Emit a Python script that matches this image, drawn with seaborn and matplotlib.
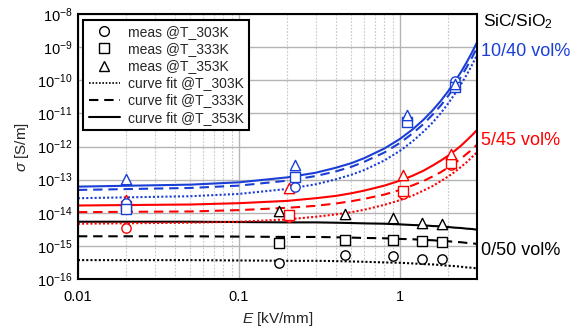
import numpy as np
import pandas as pd
import seaborn as sns
import matplotlib.pyplot as plt
from matplotlib.lines import Line2D
from matplotlib.ticker import FixedLocator, FixedFormatter, LogLocator, NullFormatter

# ---- fitted conductivity curves (log10 sigma [S/m] at the listed fields) ----
E_fit = [0.01, 0.05, 0.1, 0.2, 0.3, 0.4, 0.5, 0.6, 0.8, 1.0,
         1.2, 1.4, 1.6, 1.8, 2.0, 2.2, 2.4, 2.6, 2.8, 3.0]

fit_10_40_303 = [-13.56, -13.50, -13.43, -13.28, -13.14, -12.99, -12.85, -12.71, -12.42, -12.13,
                 -11.84, -11.55, -11.27, -10.98, -10.69, -10.40, -10.11, -9.83, -9.54, -9.25]
fit_10_40_333 = [-13.31, -13.25, -13.18, -13.03, -12.89, -12.75, -12.61, -12.46, -12.18, -11.89,
                 -11.60, -11.32, -11.03, -10.75, -10.46, -10.17, -9.89, -9.60, -9.32, -9.03]
fit_10_40_353 = [-13.21, -13.15, -13.08, -12.93, -12.79, -12.64, -12.50, -12.35, -12.06, -11.77,
                 -11.48, -11.19, -10.90, -10.61, -10.32, -10.03, -9.74, -9.45, -9.16, -8.87]

fit_5_45_303 = [-14.33, -14.30, -14.27, -14.20, -14.12, -14.05, -13.98, -13.91, -13.76, -13.62,
                -13.48, -13.33, -13.19, -13.04, -12.90, -12.76, -12.61, -12.47, -12.32, -12.18]
fit_5_45_333 = [-13.98, -13.96, -13.92, -13.85, -13.79, -13.72, -13.65, -13.58, -13.45, -13.31,
                -13.17, -13.04, -12.90, -12.77, -12.63, -12.49, -12.36, -12.22, -12.09, -11.95]
fit_5_45_353 = [-13.78, -13.75, -13.71, -13.64, -13.56, -13.49, -13.41, -13.33, -13.18, -13.03,
                -12.88, -12.73, -12.57, -12.42, -12.27, -12.12, -11.97, -11.81, -11.66, -11.51]

fit_0_50_303 = [-15.43, -15.43, -15.44, -15.45, -15.45, -15.46, -15.47, -15.48, -15.50, -15.51,
                -15.53, -15.55, -15.56, -15.58, -15.60, -15.61, -15.63, -15.65, -15.66, -15.68]
fit_0_50_333 = [-14.71, -14.71, -14.72, -14.73, -14.73, -14.74, -14.75, -14.76, -14.77, -14.79,
                -14.80, -14.82, -14.83, -14.85, -14.86, -14.88, -14.89, -14.91, -14.92, -14.94]
fit_0_50_353 = [-14.27, -14.27, -14.28, -14.29, -14.29, -14.30, -14.31, -14.32, -14.33, -14.35,
                -14.37, -14.38, -14.40, -14.41, -14.43, -14.45, -14.46, -14.48, -14.49, -14.51]

# ---- measured conductivity (log10 sigma [S/m]) ----
E_meas_0_50 = [0.177, 0.455, 0.90, 1.375, 1.82]
meas_0_50_303 = [-15.53, -15.28, -15.31, -15.39, -15.41]
meas_0_50_333 = [-14.91, -14.83, -14.83, -14.85, -14.89]
meas_0_50_353 = [-13.95, -14.04, -14.17, -14.30, -14.34]

E_meas_5_45 = [0.02, 0.206, 1.04, 2.07]
meas_5_45_303 = [-14.45, -14.12, -13.42, -12.55]
meas_5_45_333 = [-13.80, -14.07, -13.34, -12.49]
meas_5_45_353 = [-13.62, -13.24, -12.86, -12.21]

E_meas_10_40 = [0.02, 0.224, 1.11, 2.20]
meas_10_40_303 = [-13.70, -13.23, -11.20, -10.02]
meas_10_40_333 = [-13.88, -12.92, -11.25, -10.20]
meas_10_40_353 = [-12.98, -12.56, -11.05, -10.12]

temperatures = ["303K", "333K", "353K"]
compositions = ["0/50", "5/45", "10/40"]
comp_colors = {"0/50": "black", "5/45": "#ff0000", "10/40": "#1a3fd6"}
temp_markers = {"303K": "o", "333K": "s", "353K": "^"}
temp_lines = {"303K": (0, (1, 1)), "333K": (0, (4.5, 2.8)), "353K": "-"}

fits = {
    "0/50": [fit_0_50_303, fit_0_50_333, fit_0_50_353],
    "5/45": [fit_5_45_303, fit_5_45_333, fit_5_45_353],
    "10/40": [fit_10_40_303, fit_10_40_333, fit_10_40_353],
}
meas_E = {"0/50": E_meas_0_50, "5/45": E_meas_5_45, "10/40": E_meas_10_40}
meas = {
    "0/50": [meas_0_50_303, meas_0_50_333, meas_0_50_353],
    "5/45": [meas_5_45_303, meas_5_45_333, meas_5_45_353],
    "10/40": [meas_10_40_303, meas_10_40_333, meas_10_40_353],
}

fit_rows, meas_rows = [], []
for comp in compositions:
    for t, logs in zip(temperatures, fits[comp]):
        for e, lg in zip(E_fit, logs):
            fit_rows.append({"E": e, "sigma": 10.0 ** lg, "comp": comp, "T": t})
    for t, logs in zip(temperatures, meas[comp]):
        for e, lg in zip(meas_E[comp], logs):
            meas_rows.append({"E": e, "sigma": 10.0 ** lg, "comp": comp, "T": t})
fit_df = pd.DataFrame(fit_rows)
meas_df = pd.DataFrame(meas_rows)

sns.set_theme(style="white")
plt.rcParams["font.family"] = ["Liberation Sans", "DejaVu Sans"]
plt.rcParams["mathtext.fontset"] = "custom"
plt.rcParams["mathtext.rm"] = "Liberation Sans"
plt.rcParams["mathtext.it"] = "Liberation Sans:italic"
plt.rcParams["mathtext.sf"] = "Liberation Sans"

fig = plt.figure(figsize=(5.73, 3.29), dpi=100)
ax = fig.add_axes([0.136, 0.152, 0.696, 0.805])

# fitted curves
for comp in compositions:
    for t in temperatures:
        sub = fit_df[(fit_df["comp"] == comp) & (fit_df["T"] == t)]
        sns.lineplot(data=sub, x="E", y="sigma", ax=ax, color=comp_colors[comp],
                     linestyle=temp_lines[t], linewidth=1.5, sort=False,
                     estimator=None, legend=False, zorder=2)

# measured points
for comp in compositions:
    for t in temperatures:
        sub = meas_df[(meas_df["comp"] == comp) & (meas_df["T"] == t)]
        sns.scatterplot(data=sub, x="E", y="sigma", ax=ax, marker=temp_markers[t],
                        s=55 if t == "353K" else 45, facecolor="white",
                        edgecolor=comp_colors[comp], linewidth=1.0,
                        legend=False, zorder=4)

ax.set_xscale("log")
ax.set_yscale("log")
ax.set_xlim(0.01, 3.0)
ax.set_ylim(1e-16, 1e-8)

ax.xaxis.set_major_locator(FixedLocator([0.01, 0.1, 1]))
ax.xaxis.set_major_formatter(FixedFormatter(["0.01", "0.1", "1"]))
ax.xaxis.set_minor_locator(LogLocator(base=10, subs=np.arange(2, 10)))
ax.xaxis.set_minor_formatter(NullFormatter())
yt = [10.0 ** k for k in range(-16, -7)]
ax.yaxis.set_major_locator(FixedLocator(yt))
ax.yaxis.set_major_formatter(FixedFormatter([r"$10^{%d}$" % k for k in range(-16, -7)]))
ax.yaxis.set_minor_locator(FixedLocator([]))

ax.tick_params(axis="both", which="both", length=0, labelsize=10.5, colors="black")
ax.tick_params(axis="x", pad=8)
ax.tick_params(axis="y", pad=4)

ax.grid(True, which="major", axis="both", color="#b4b4b4", linewidth=1.0, linestyle="-", zorder=0)
ax.grid(True, which="minor", axis="x", color="#c8c8c8", linewidth=0.8, linestyle=(0, (1.5, 1.5)), zorder=0)
ax.set_axisbelow(True)

for sp in ax.spines.values():
    sp.set_visible(True)
    sp.set_color("black")
    sp.set_linewidth(1.5)

ax.set_xlabel(r"$E$ [kV/mm]", fontsize=11, labelpad=4)
ax.set_ylabel(r"$\sigma$ [S/m]", fontsize=11, labelpad=4)

handles = [
    Line2D([], [], linestyle="none", marker="o", markersize=7, mfc="white", mec="black", mew=1.0),
    Line2D([], [], linestyle="none", marker="s", markersize=7, mfc="white", mec="black", mew=1.0),
    Line2D([], [], linestyle="none", marker="^", markersize=7.5, mfc="white", mec="black", mew=1.0),
    Line2D([], [], color="black", linestyle=temp_lines["303K"], linewidth=1.2),
    Line2D([], [], color="black", linestyle=temp_lines["333K"], linewidth=1.5),
    Line2D([], [], color="black", linestyle="-", linewidth=1.5),
]
labels = ["meas @T_303K", "meas @T_333K", "meas @T_353K",
          "curve fit @T_303K", "curve fit @T_333K", "curve fit @T_353K"]
leg = ax.legend(handles, labels, loc="upper left", bbox_to_anchor=(0.0, 1.0),
                fontsize=10, frameon=True, fancybox=False, framealpha=1.0,
                edgecolor="black", handlelength=2.2, handletextpad=0.6,
                labelspacing=0.22, borderpad=0.4, borderaxespad=0.4)
leg.get_frame().set_linewidth(1.5)
leg.set_zorder(10)

fig.text(0.843, 0.933, r"SiC/SiO$_2$", fontsize=12.5, color="black", va="center", ha="left")
fig.text(0.839, 0.842, "10/40 vol%", fontsize=13, color=comp_colors["10/40"], va="center", ha="left")
fig.text(0.839, 0.574, "5/45 vol%", fontsize=13, color=comp_colors["5/45"], va="center", ha="left")
fig.text(0.839, 0.240, "0/50 vol%", fontsize=13, color="black", va="center", ha="left")

fig.savefig("out.png", dpi=100)
